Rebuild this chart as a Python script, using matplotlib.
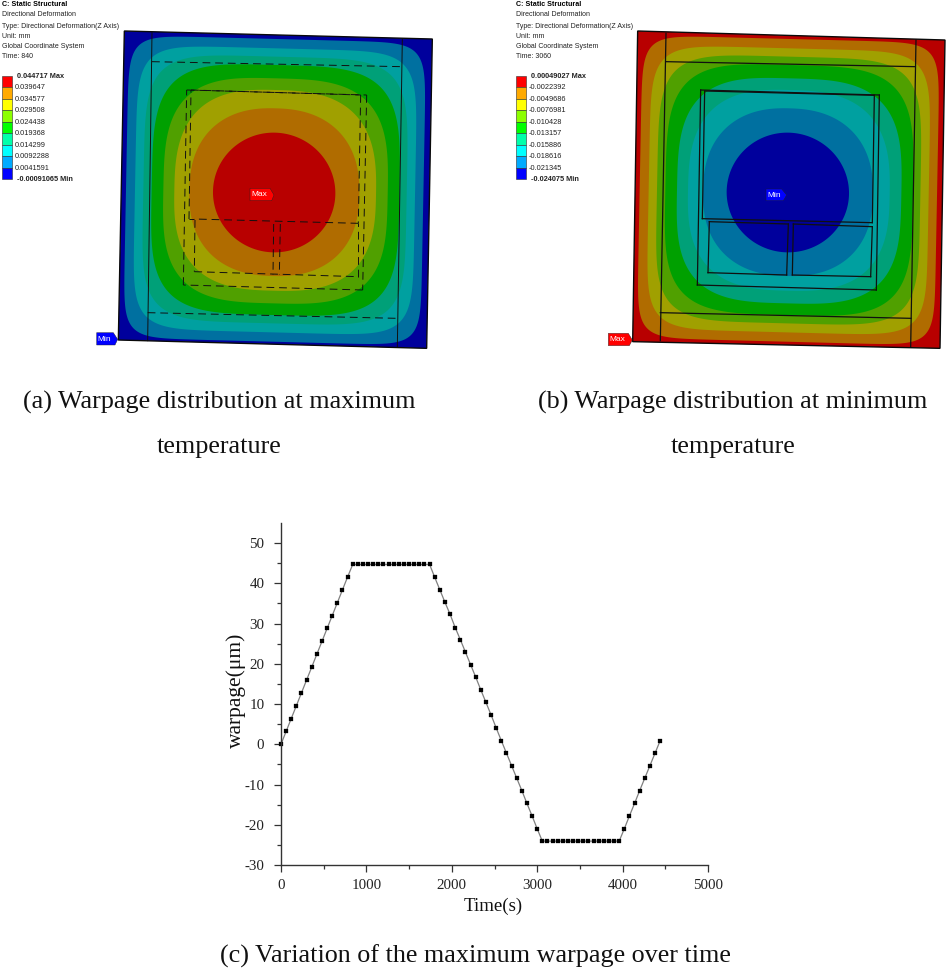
import numpy as np
import matplotlib
matplotlib.use("Agg")
import matplotlib.pyplot as plt
from matplotlib.patches import Polygon, Rectangle

# chart (c) values
time_s = [0, 60, 120, 180, 240, 300, 360, 420, 480, 540, 600, 660, 720, 780,
          840, 900, 960, 1020, 1080, 1140, 1200, 1260, 1320, 1380, 1440, 1500, 1560, 1620, 1680, 1740,
          1800, 1860, 1920, 1980, 2040, 2100, 2160, 2220, 2280, 2340, 2400, 2460, 2520, 2580, 2640,
          2700, 2760, 2820, 2880, 2940, 3000,
          3060, 3120, 3180, 3240, 3300, 3360, 3420, 3480, 3540, 3600, 3660, 3720, 3780, 3840, 3900, 3960,
          4020, 4080, 4140, 4200, 4260, 4320, 4380, 4440]
warpage_um = [0, 3.2, 6.4, 9.6, 12.8, 16.0, 19.2, 22.4, 25.6, 28.8, 32.0, 35.2, 38.4, 41.6,
              44.7, 44.7, 44.7, 44.7, 44.7, 44.7, 44.7, 44.7, 44.7, 44.7, 44.7, 44.7, 44.7, 44.7, 44.7, 44.7,
              41.5, 38.4, 35.3, 32.3, 29.0, 26.0, 22.9, 19.8, 16.7, 13.5, 10.4, 7.3, 4.05, 0.9, -2.2,
              -5.3, -8.4, -11.5, -14.7, -17.8, -21.0,
              -24.07, -24.07, -24.07, -24.07, -24.07, -24.07, -24.07, -24.07, -24.07, -24.07, -24.07, -24.07, -24.07, -24.07, -24.07, -24.07,
              -21.0, -17.8, -14.7, -11.5, -8.4, -5.3, -2.2, 0.9]

# legend text of the two contour plots
header_a = ["Directional Deformation", "Type: Directional Deformation(Z Axis)", "Unit: mm",
            "Global Coordinate System", "Time: 840"]
header_b = ["Directional Deformation", "Type: Directional Deformation(Z Axis)", "Unit: mm",
            "Global Coordinate System", "Time: 3060"]
levels_a = ["0.044717 Max", "0.039647", "0.034577", "0.029508", "0.024438",
            "0.019368", "0.014299", "0.0092288", "0.0041591", "-0.00091065 Min"]
levels_b = ["0.00049027 Max", "-0.0022392", "-0.0049686", "-0.0076981", "-0.010428",
            "-0.013157", "-0.015886", "-0.018616", "-0.021345", "-0.024075 Min"]
legend_colors = ["#ff0000", "#ffaa00", "#ffff00", "#8cff00", "#00ff00",
                 "#00ffaa", "#00ffff", "#00aaff", "#0000ff"]

# shaded contour colours, from the outer band inward for plot (a)
band_colors = ["#00009c", "#0070a0", "#00a0a0", "#00a078", "#00a000",
               "#50a000", "#a0a000", "#b06c00", "#b80000"]
# band edges in plate crop pixels: left, right, top, bottom, squareness
band_left = [108, 135, 160, 185, 220, 253, 298, 369]
band_right = [1000, 975, 950, 928, 893, 858, 808, 736]
band_top = [57, 85, 110, 135, 175, 210, 265, 338]
band_bottom = [965, 937, 910, 885, 850, 812, 768, 697]
band_power = [10, 7, 5.2, 4, 3.3, 2.8, 2.35, 2.0]

# plate and package outlines in plate crop pixels
plate_a = [(103, 33), (1027, 57), (1010, 985), (85, 960)]
plate_b = [(113, 33), (1035, 60), (1020, 985), (98, 965)]
lines_a = [((186, 38), (173, 962), "-"), ((937, 58), (922, 980), "-"),
           ((186, 125), (935, 140), "--"), ((173, 878), (922, 895), "--"),
           ((290, 210), (830, 225), "--"), ((830, 225), (818, 810), "--"),
           ((818, 810), (280, 795), "--"), ((280, 795), (290, 210), "--"),
           ((303, 210), (812, 225), "--"), ((812, 225), (805, 610), "--"),
           ((805, 610), (312, 597), "--"), ((312, 597), (297, 597), "--"), ((297, 597), (303, 210), "--"),
           ((315, 600), (313, 755), "--"), ((313, 755), (805, 770), "--"), ((805, 770), (805, 610), "--"),
           ((551, 612), (549, 765), "--"), ((571, 612), (568, 765), "--")]
lines_b = [((198, 40), (181, 962), "-"), ((948, 60), (932, 982), "-"),
           ((198, 125), (946, 140), "-"), ((181, 878), (933, 895), "-"),
           ((302, 210), (838, 225), "-"), ((838, 225), (829, 810), "-"),
           ((829, 810), (292, 795), "-"), ((292, 795), (302, 210), "-"),
           ((314, 213), (823, 226), "-"), ((823, 226), (817, 608), "-"),
           ((817, 608), (307, 596), "-"), ((307, 596), (314, 213), "-"),
           ((328, 605), (565, 612), "-"), ((565, 612), (560, 765), "-"),
           ((560, 765), (324, 758), "-"), ((324, 758), (328, 605), "-"),
           ((580, 612), (817, 620), "-"), ((817, 620), (812, 770), "-"),
           ((812, 770), (577, 765), "-"), ((577, 765), (580, 612), "-")]

serif = "Liberation Serif"
sans = "Liberation Sans"
W, H = 948, 971


def draw_bands(ax, colors, shift, origin):
    cx, cy = 552, 518
    t = np.linspace(0, 2 * np.pi, 361)
    c, s = np.cos(t), np.sin(t)
    for i in range(len(band_left)):
        n = band_power[i]
        dx = np.abs(c) ** (2 / n) * np.where(c >= 0, band_right[i] - cx, cx - band_left[i]) * np.sign(c)
        dy = np.abs(s) ** (2 / n) * np.where(s >= 0, band_bottom[i] - cy, cy - band_top[i]) * np.sign(s)
        # plate is tilted a little in the picture
        x = cx + dx - 0.019 * dy + shift
        y = cy + dy + 0.026 * dx
        pts = np.column_stack([x / 3 + origin[0], y / 3 + origin[1]])
        ax.add_patch(Polygon(pts, closed=True, fc=colors[i + 1], ec="none", zorder=2))


def draw_panel(ax, plate, lines, colors, shift, origin, lw):
    corners = [(x / 3 + origin[0], y / 3 + origin[1]) for x, y in plate]
    ax.add_patch(Polygon(corners, closed=True, fc=colors[0], ec="none", zorder=1))
    draw_bands(ax, colors, shift, origin)
    for p0, p1, style in lines:
        ax.plot([p0[0] / 3 + origin[0], p1[0] / 3 + origin[0]],
                [p0[1] / 3 + origin[1], p1[1] / 3 + origin[1]],
                color="#101010", lw=lw, ls=style if style == "-" else (0, (8, 5)), zorder=3)
    ax.add_patch(Polygon(corners, closed=True, fc="none", ec="#0a0a0a", lw=1.0, zorder=4))


def draw_tag(ax, pts, origin, color, label):
    p = [(x / 3 + origin[0], y / 3 + origin[1]) for x, y in pts]
    ax.add_patch(Polygon(p, closed=True, fc=color, ec="#202020", lw=0.3, zorder=5))
    tx = min(q[0] for q in p) + 1.2
    ty = sum(q[1] for q in p) / len(p) + 0.3
    ax.text(tx, ty, label, color="white", fontsize=6, family=sans, va="center", ha="left", zorder=6)


def draw_legend(ax, x0, header, levels):
    ax.text(x0, 4.7, "C: Static Structural", fontsize=5.1, family=sans, weight="bold", va="center")
    for k, line in enumerate(header):
        ax.text(x0, [15, 26, 36, 46, 56][k], line, fontsize=5.0, family=sans, color="#222222", va="center")
    edges = np.linspace(76, 179, 10)
    for k, col in enumerate(legend_colors):
        ax.add_patch(Rectangle((x0, edges[k]), 10, edges[k + 1] - edges[k], fc=col, ec="#303030", lw=0.4))
    for k, lab in enumerate(levels):
        bold = k in (0, len(levels) - 1)
        ax.text(x0 + (15 if bold else 13), edges[k] + 0.5, lab, fontsize=5.3, family=sans,
                weight="bold" if bold else "normal", color="#222222", va="center")


fig = plt.figure(figsize=(W / 100, H / 100), dpi=100)

# whole-figure axes in image pixels for the two contour pictures and captions
bg = fig.add_axes([0, 0, 1, 1])
bg.set_xlim(0, W)
bg.set_ylim(H, 0)
bg.axis("off")

draw_panel(bg, plate_a, lines_a, band_colors, 0, (90, 20), 0.7)
draw_panel(bg, plate_b, lines_b, band_colors[::-1], 11, (600, 20), 0.9)
draw_tag(bg, [(480, 505), (540, 505), (552, 525), (545, 542), (480, 542)], (90, 20), "#ff0000", "Max")
draw_tag(bg, [(20, 938), (70, 938), (83, 958), (75, 975), (20, 975)], (90, 20), "#0000ff", "Min")
draw_tag(bg, [(498, 507), (545, 507), (560, 525), (550, 542), (498, 542)], (600, 20), "#0000ff", "Min")
draw_tag(bg, [(25, 940), (85, 940), (97, 960), (88, 977), (25, 977)], (600, 20), "#ff0000", "Max")
draw_legend(bg, 2, header_a, levels_a)
draw_legend(bg, 516, header_b, levels_b)

cap = dict(family=serif, fontsize=18.85, color="#111111", va="center")
bg.text(219, 402, "(a) Warpage distribution at maximum", ha="center", **cap)
bg.text(219, 447, "temperature", ha="center", **cap)
bg.text(733, 402, "(b) Warpage distribution at minimum", ha="center", **cap)
bg.text(733, 447, "temperature", ha="center", **cap)
bg.text(475, 956, "(c) Variation of the maximum warpage over time", ha="center", **cap)

# chart (c)
ax = fig.add_axes([281 / W, 1 - 865 / H, (708 - 281) / W, (865 - 523) / H])
ax.patch.set_alpha(0)
ax.plot(time_s, warpage_um, color="#808080", lw=0.9, marker="s", ms=3.4,
        mfc="black", mec="black", mew=0.2, clip_on=False)
ax.set_xlim(0, 5000)
ax.set_ylim(-30, 55)
ax.set_xticks([0, 1000, 2000, 3000, 4000, 5000])
ax.set_xticks([500, 1500, 2500, 3500, 4500], minor=True)
ax.set_yticks([-30, -20, -10, 0, 10, 20, 30, 40, 50])
ax.set_yticks(np.arange(-25, 55, 10), minor=True)
ax.set_yticklabels(["-30", "-20", "-10", "0", "10", "20", "30", "40", "50"])
for side in ["top", "right"]:
    ax.spines[side].set_visible(False)
for side in ["left", "bottom"]:
    ax.spines[side].set_color("#333333")
    ax.spines[side].set_linewidth(1.0)
ax.tick_params(which="major", length=5, width=0.9, color="#333333", labelsize=10.8, labelcolor="#222222")
ax.tick_params(which="minor", length=3, width=0.9, color="#333333")
ax.tick_params(axis="y", which="major", pad=7)
ax.tick_params(axis="x", which="major", pad=5)
for lab in ax.get_xticklabels() + ax.get_yticklabels():
    lab.set_family(serif)

bg.text(493, 906, "Time(s)", family=serif, fontsize=13.6, color="#111111", ha="center", va="center")
bg.text(236, 690, "warpage(μm)", family=serif, fontsize=15.5, color="#111111", ha="center", va="center",
        rotation=90)

fig.savefig("out.png", dpi=100)
